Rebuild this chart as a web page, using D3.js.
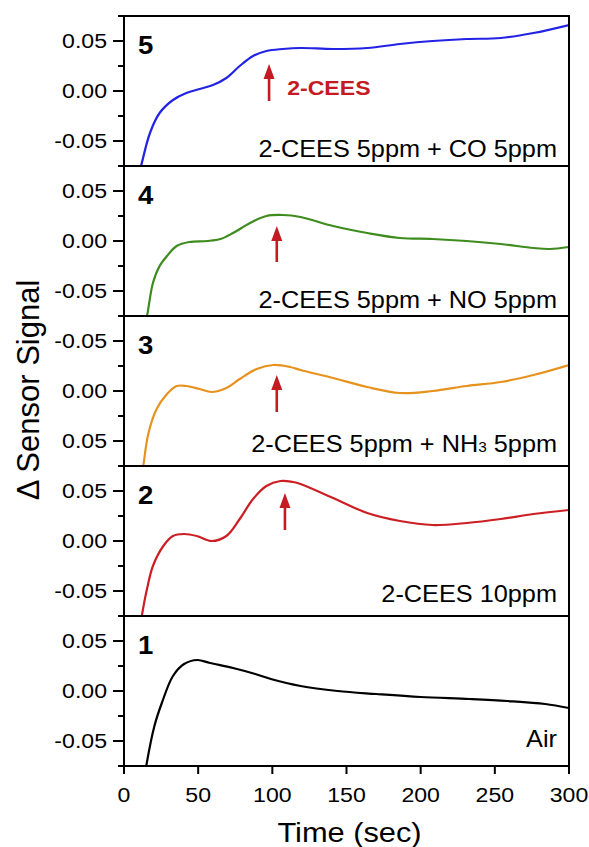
<!DOCTYPE html>
<html>

<head>
  <meta charset="utf-8">
  <title>Sensor Signal</title>
  <script type="text/javascript" src="https://cdn.jsdelivr.net/npm/d3@7"></script>
  <style type="text/css">
    body { margin: 0; background: #fff; }
    text { font-family: "Liberation Sans", Arial, sans-serif; }
  </style>
</head>

<body>
  <script type="text/javascript">

    // Data (time in sec, signal)
    const panelIds = [5, 4, 3, 2, 1];
    const panelLabels = ["2-CEES 5ppm + CO 5ppm", "2-CEES 5ppm + NO 5ppm", "2-CEES 5ppm + NH|3| 5ppm", "2-CEES 10ppm", "Air"];
    const panelColors = ["#2323e6", "#3e8c1e", "#e8921e", "#cc1f24", "#000000"];

    const time5 = [9, 11.5, 17.5, 24, 33, 42, 51, 60, 69, 78, 87, 96, 107, 119, 141, 164, 186, 208, 231, 254, 276, 300];
    const sig5 = [-0.089, -0.075, -0.042, -0.022, -0.009, -0.002, 0.002, 0.006, 0.013, 0.025, 0.035, 0.040, 0.042, 0.043, 0.042, 0.043, 0.047, 0.050, 0.052, 0.053, 0.058, 0.066];

    const time4 = [13, 15.5, 19.5, 24, 29, 35.5, 44, 56, 65, 73.5, 85, 96, 107, 119, 141, 164, 186, 208, 231, 254, 276, 287, 300];
    const sig4 = [-0.09, -0.075, -0.042, -0.025, -0.015, -0.005, -0.001, 0.000, 0.002, 0.008, 0.018, 0.025, 0.026, 0.024, 0.015, 0.008, 0.003, 0.002, 0.000, -0.003, -0.007, -0.008, -0.006];

    const time3 = [11, 13, 16.5, 22, 29, 35.5, 42, 51, 59, 69, 78, 89.5, 100.5, 112, 119, 141, 164, 186, 208, 231, 254, 276, 300];
    const sig3 = [-0.095, -0.075, -0.042, -0.018, -0.003, 0.005, 0.005, 0.002, -0.001, 0.003, 0.012, 0.022, 0.026, 0.024, 0.021, 0.013, 0.004, -0.002, 0.000, 0.005, 0.009, 0.016, 0.026];

    const time2 = [10.5, 12, 15.5, 19.5, 26.5, 33, 40.5, 49, 59, 69, 78, 87, 96, 105.5, 114, 119, 141, 164, 186, 208, 231, 254, 276, 300];
    const sig2 = [-0.09, -0.075, -0.048, -0.025, -0.005, 0.005, 0.007, 0.005, 0.000, 0.005, 0.022, 0.042, 0.055, 0.060, 0.059, 0.057, 0.043, 0.028, 0.020, 0.016, 0.018, 0.022, 0.027, 0.031];

    const time1 = [13.5, 15, 20.5, 25.5, 33, 40.5, 49.5, 58, 73.5, 88.5, 99, 119, 144, 170, 200, 233, 258.5, 284, 300];
    const sig1 = [-0.09, -0.075, -0.035, -0.012, 0.015, 0.027, 0.031, 0.028, 0.023, 0.017, 0.012, 0.005, 0.000, -0.003, -0.006, -0.008, -0.010, -0.013, -0.017];

    const times = [time5, time4, time3, time2, time1];
    const signals = [sig5, sig4, sig3, sig2, sig1];

    // arrows: [time, tip, base] per panel (null = none)
    const arrows = [[97.8, 0.027, -0.010], [103, 0.015, -0.021], [103, 0.016, -0.021], [108.5, 0.048, 0.011], null];

    const xTicks = [0, 50, 100, 150, 200, 250, 300];
    const yMajor = [-0.05, 0, 0.05];
    const yMinor = [-0.075, -0.025, 0.025, 0.075];
    // panel 3 has its tick labels flipped in the original
    const yTickText = [
      ["-0.05", "0.00", "0.05"],
      ["-0.05", "0.00", "0.05"],
      ["0.05", "0.00", "-0.05"],
      ["-0.05", "0.00", "0.05"],
      ["-0.05", "0.00", "0.05"]
    ];

    const W = 589, H = 847;
    const pLeft = 124, pRight = 569, pTop = 16, ph = 150;
    const SX = 1.1; // text in the picture is a bit wide

    const x = d3.scaleLinear().domain([0, 300]).range([pLeft, pRight]);

    const svg = d3.select("body").append("svg")
      .attr("width", W).attr("height", H);

    // helper for stretched text
    function label(g, tx, ty, str, size, anchor, extra) {
      const t = g.append("text")
        .attr("transform", "translate(" + tx + "," + ty + ") scale(" + SX + ",1)")
        .attr("text-anchor", anchor)
        .attr("font-size", size)
        .text(str);
      if (extra) extra(t);
      return t;
    }

    svg.append("defs").append("clipPath").attr("id", "clip")
      .append("rect").attr("x", 0).attr("y", 0).attr("width", pRight - pLeft).attr("height", ph);

    panelIds.forEach(function (id, i) {
      const y0 = pTop + i * ph;
      const y = d3.scaleLinear().domain([-0.075, 0.075]).range([y0 + ph, y0]);
      const g = svg.append("g");

      // curve
      const pts = times[i].map((t, k) => [t, signals[i][k]]);
      const line = d3.line()
        .x(d => x(d[0]) - pLeft)
        .y(d => y(d[1]) - y0)
        .curve(d3.curveCatmullRom.alpha(0.5));
      g.append("g")
        .attr("transform", "translate(" + pLeft + "," + y0 + ")")
        .attr("clip-path", "url(#clip)")
        .append("path")
        .attr("d", line(pts))
        .attr("fill", "none")
        .attr("stroke", panelColors[i])
        .attr("stroke-width", 2.2)
        .attr("stroke-linejoin", "round");

      // y ticks
      g.selectAll(".maj").data(yMajor).enter().append("line")
        .attr("x1", pLeft - 11).attr("x2", pLeft)
        .attr("y1", d => y(d)).attr("y2", d => y(d))
        .attr("stroke", "#000").attr("stroke-width", 2);
      g.selectAll(".min").data(yMinor).enter().append("line")
        .attr("x1", pLeft - 6).attr("x2", pLeft)
        .attr("y1", d => y(d)).attr("y2", d => y(d))
        .attr("stroke", "#000").attr("stroke-width", 2);
      yMajor.forEach(function (v, k) {
        label(g, pLeft - 17, y(v), yTickText[i][k], 21, "end", t => t.attr("dy", "0.35em"));
      });

      // frame
      g.append("rect")
        .attr("x", pLeft).attr("y", y0)
        .attr("width", pRight - pLeft).attr("height", ph)
        .attr("fill", "none").attr("stroke", "#000").attr("stroke-width", 2);

      // panel number
      label(g, 138, y0 + 38, String(id), 25, "start", t => t.attr("font-weight", "bold"));

      // condition label
      const baseOff = [9, 8, 14, 14, 19][i];
      const parts = panelLabels[i].split("|");
      label(g, pRight - 12, y0 + ph - baseOff, null, 23, "end", function (t) {
        parts.forEach(function (p, k) {
          t.append("tspan").text(p).attr("font-size", k === 1 ? 14 : null);
        });
      });

      // arrow
      if (arrows[i]) {
        const a = arrows[i];
        const ax = x(a[0]), tip = y(a[1]), base = y(a[2]);
        g.append("line")
          .attr("x1", ax).attr("x2", ax)
          .attr("y1", tip + 10).attr("y2", base)
          .attr("stroke", "#c41a22").attr("stroke-width", 2.6);
        g.append("path")
          .attr("d", d3.line()([[ax, tip], [ax - 5.5, tip + 15], [ax + 5.5, tip + 15]]) + "Z")
          .attr("fill", "#c41a22");
      }

      if (id === 5) {
        label(g, x(110), y(-0.004), "2-CEES", 21, "start",
          t => t.attr("font-weight", "bold").attr("fill", "#c41a22"));
      }

      // x axis on bottom panel
      if (i === panelIds.length - 1) {
        g.selectAll(".xt").data(xTicks).enter().append("line")
          .attr("x1", d => x(d)).attr("x2", d => x(d))
          .attr("y1", y0 + ph).attr("y2", y0 + ph + 8)
          .attr("stroke", "#000").attr("stroke-width", 2);
        xTicks.forEach(function (v) {
          label(g, x(v), y0 + ph + 36, String(v), 21, "middle");
        });
      }
    });

    // axis titles
    label(svg, (pLeft + pRight) / 2 + 3, 842, "Time (sec)", 28, "middle");
    svg.append("text")
      .attr("transform", "translate(39,390) rotate(-90)")
      .attr("text-anchor", "middle")
      .attr("font-size", 31)
      .text("\u0394 Sensor Signal");

  </script>
</body>

</html>
